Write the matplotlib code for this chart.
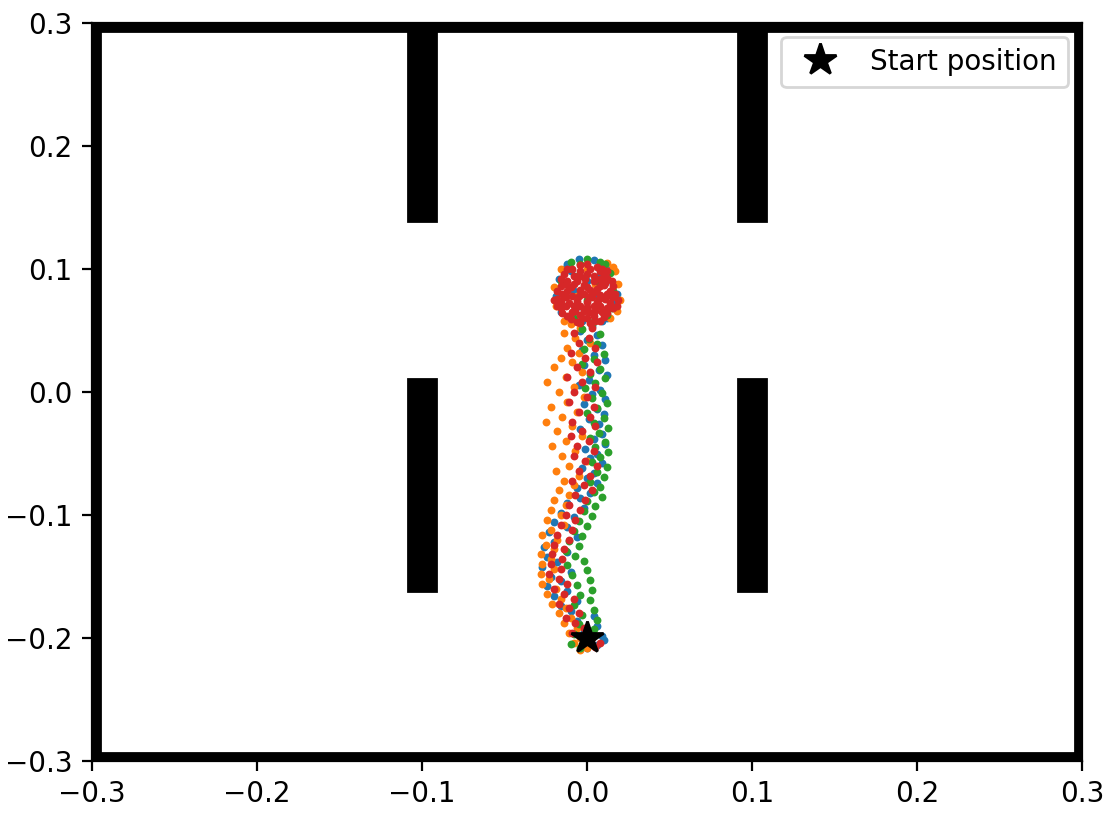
import matplotlib
matplotlib.use("Agg")
import matplotlib.pyplot as plt
from matplotlib.patches import Rectangle

# Траєкторії чотирьох запусків (x, y)
blue_x = [-0.012, -0.005, 0.004, 0.012, 0.016, 0.015, 0.012, -0.016, -0.019, -0.017, -0.01, 0.0, 0.005, -0.005,
          0.008, -0.008, 0.018, -0.014, 0.009, -0.003,
          0.003, -0.004, 0.006, 0.0, 0.009, -0.003, 0.004, 0.011, -0.002, 0.007, 0.012, 0.001, -0.005, 0.008,
          0.003, 0.011, -0.002, 0.006, 0.01, 0.001, 0.007, -0.004, 0.009, 0.004, 0.011, -0.001, 0.006, 0.002,
          0.009, -0.003, 0.004, 0.0, 0.006, -0.006, 0.002, -0.004, -0.012, -0.002, -0.016, -0.008, -0.02, -0.012,
          -0.023, -0.006, -0.02, -0.026, -0.012, -0.024, -0.018, -0.027, -0.01, -0.022, -0.016, -0.024, -0.012,
          -0.02, -0.006, -0.016, -0.01, 0.004, -0.006, 0.006, -0.002, 0.009, 0.01, 0.006, 0.0]
blue_y = [0.104, 0.108, 0.107, 0.1, 0.088, 0.072, 0.06, 0.065, 0.078, 0.092, 0.098, 0.09, 0.08, 0.07,
          0.095, 0.082, 0.08, 0.1, 0.058, 0.058,
          0.054, 0.05, 0.046, 0.042, 0.038, 0.034, 0.03, 0.026, 0.022, 0.018, 0.014, 0.01, 0.006, 0.002,
          -0.002, -0.006, -0.01, -0.014, -0.018, -0.022, -0.026, -0.03, -0.034, -0.038, -0.042, -0.046, -0.05, -0.054,
          -0.058, -0.062, -0.066, -0.07, -0.074, -0.078, -0.082, -0.086, -0.09, -0.094, -0.098, -0.102, -0.106, -0.11,
          -0.114, -0.118, -0.122, -0.126, -0.13, -0.134, -0.138, -0.142, -0.146, -0.15, -0.154, -0.158, -0.162,
          -0.166, -0.17, -0.174, -0.178, -0.182, -0.186, -0.19, -0.194, -0.198, -0.202, -0.206, -0.208]

orange_x = [-0.016, 0.012, 0.017, 0.019, 0.02, 0.018, 0.014, -0.019, -0.02, -0.014, 0.0, 0.005, -0.006, 0.008,
            0.016, -0.01,
            -0.01, -0.004, -0.014, -0.007, 0.002, -0.012, -0.005, -0.016, -0.009, -0.02, -0.003, -0.013, -0.024,
            -0.008, -0.017, -0.002, -0.012, -0.022, -0.006, -0.015, -0.025, -0.009, -0.018, -0.003, -0.013, -0.021,
            -0.007, -0.015, 0.0, -0.011, -0.019, -0.005, -0.014, -0.008, -0.017, -0.011, -0.02, -0.013, -0.022,
            -0.016, -0.024, -0.014, -0.022, -0.027, -0.018, -0.025, -0.02, -0.028, -0.022, -0.027, -0.02, -0.028,
            -0.023, -0.027, -0.019, -0.024, -0.016, -0.021, -0.013, -0.017, -0.01, -0.014, -0.006, -0.011, -0.004,
            -0.008, 0.0, -0.004]
orange_y = [0.1, 0.105, 0.098, 0.088, 0.075, 0.066, 0.06, 0.07, 0.085, 0.058, 0.1, 0.088, 0.078, 0.068,
            0.102, 0.062,
            0.055, 0.052, 0.048, 0.044, 0.04, 0.036, 0.032, 0.028, 0.024, 0.02, 0.016, 0.012, 0.008,
            0.004, 0.0, -0.004, -0.008, -0.012, -0.016, -0.02, -0.024, -0.028, -0.032, -0.036, -0.04, -0.044,
            -0.048, -0.052, -0.056, -0.06, -0.064, -0.068, -0.072, -0.076, -0.08, -0.084, -0.088, -0.092, -0.096,
            -0.1, -0.104, -0.108, -0.112, -0.116, -0.12, -0.124, -0.128, -0.132, -0.136, -0.14, -0.144, -0.148,
            -0.152, -0.156, -0.16, -0.164, -0.168, -0.172, -0.176, -0.18, -0.184, -0.188, -0.192, -0.196, -0.2,
            -0.204, -0.208, -0.21]

green_x = [-0.01, 0.0, 0.008, 0.014, 0.016, 0.012, 0.004, -0.008, -0.015, -0.016, 0.0, 0.006, -0.005, 0.011,
           -0.004, 0.015,
           0.003, -0.003, 0.008, 0.001, 0.006, -0.002, 0.01, 0.004, -0.003, 0.008, 0.002, 0.011, 0.005, -0.001,
           0.009, 0.003, 0.012, 0.006, 0.0, 0.01, 0.004, 0.013, 0.007, 0.002, 0.011, 0.005, 0.013, 0.008, 0.003,
           0.012, 0.006, 0.01, 0.002, 0.008, 0.004, 0.009, 0.0, 0.005, -0.002, 0.003, -0.005, 0.0, -0.008, -0.003,
           -0.011, -0.005, -0.013, -0.007, -0.002, -0.012, 0.0, -0.009, 0.002, -0.006, 0.003, -0.004, 0.002,
           -0.008, 0.004, -0.003, 0.006, -0.005, 0.004, -0.008, -0.002, -0.01, -0.004]
green_y = [0.106, 0.108, 0.106, 0.097, 0.082, 0.063, 0.058, 0.06, 0.07, 0.09, 0.075, 0.09, 0.095, 0.104,
           0.104, 0.068,
           0.055, 0.051, 0.047, 0.043, 0.039, 0.035, 0.031, 0.027, 0.023, 0.019, 0.015, 0.011, 0.007, 0.003,
           -0.001, -0.005, -0.009, -0.013, -0.017, -0.021, -0.025, -0.029, -0.033, -0.037, -0.041, -0.045, -0.049,
           -0.053, -0.057, -0.061, -0.065, -0.069, -0.073, -0.077, -0.081, -0.085, -0.089, -0.093, -0.097, -0.101,
           -0.105, -0.109, -0.113, -0.117, -0.121, -0.125, -0.129, -0.133, -0.137, -0.141, -0.145, -0.149, -0.153,
           -0.157, -0.161, -0.165, -0.169, -0.173, -0.177, -0.181, -0.185, -0.189, -0.193, -0.197, -0.201, -0.205,
           -0.208]

red_x = [-0.012, -0.004, 0.006, 0.012, -0.016, -0.008, 0.0, 0.008, 0.015, -0.018, -0.01, -0.002, 0.006, 0.014,
         -0.02, -0.013, -0.005, 0.003, 0.011, 0.019, -0.016, -0.008, 0.0, 0.008, 0.016, -0.012, -0.004, 0.004,
         0.012, -0.006, 0.002, 0.008, -0.002, 0.004, -0.009, 0.01,
         -0.014, 0.002, 0.01, -0.006, 0.012, -0.015, -0.006, 0.006, 0.014, -0.018, -0.002, 0.005, -0.01, 0.0,
         0.01, 0.017, -0.011, 0.002, 0.008, -0.004, 0.008, -0.013, 0.011, -0.001, 0.0,
         -0.012, -0.004, 0.004, 0.012, -0.016, -0.008, 0.0, 0.008, 0.016, -0.012, -0.004, 0.004, -0.016, -0.009,
         0.001, 0.007, 0.015, -0.013, -0.004, 0.004, 0.012, -0.015, -0.007, 0.001, 0.009, -0.003, 0.005, -0.009,
         0.0, 0.009, 0.018, -0.018,
         -0.004, 0.003, -0.008, 0.001, -0.005, 0.005, -0.01, -0.001, 0.006, -0.006, 0.002, -0.012, -0.003,
         0.005, -0.008, 0.0, -0.011, 0.004, -0.005, 0.002, -0.009, 0.005, -0.003, -0.01, 0.001, -0.006, 0.004,
         -0.008, -0.001, 0.006, -0.005, 0.002, -0.009, -0.002, 0.003, -0.007, -0.001, -0.011, -0.004, -0.013,
         -0.007, -0.016, -0.009, -0.018, -0.011, -0.02, -0.014, -0.021, -0.015, -0.022, -0.016, -0.023, -0.017,
         -0.012, -0.02, -0.014, -0.008, -0.017, -0.011, -0.005, -0.013, -0.007, -0.002, -0.009, 0.003, 0.008,
         0.005]
red_y = [0.1, 0.103, 0.102, 0.098, 0.092, 0.094, 0.096, 0.092, 0.09, 0.082, 0.085, 0.087, 0.084, 0.082,
         0.075, 0.077, 0.078, 0.077, 0.076, 0.075, 0.068, 0.07, 0.069, 0.07, 0.068, 0.062, 0.063, 0.062,
         0.064, 0.057, 0.056, 0.058, 0.08, 0.09, 0.065, 0.087,
         0.096, 0.1, 0.095, 0.09, 0.08, 0.08, 0.074, 0.073, 0.072, 0.07, 0.066, 0.066, 0.059, 0.06,
         0.061, 0.08, 0.072, 0.083, 0.079, 0.098, 0.098, 0.088, 0.089, 0.092, 0.073,
         0.09, 0.094, 0.094, 0.093, 0.086, 0.088, 0.085, 0.086, 0.086, 0.082, 0.083, 0.081, 0.074, 0.078,
         0.077, 0.076, 0.077, 0.07, 0.07, 0.07, 0.068, 0.064, 0.066, 0.065, 0.065, 0.06, 0.058, 0.1,
         0.104, 0.1, 0.07, 0.076,
         0.056, 0.052, 0.048, 0.044, 0.04, 0.036, 0.032, 0.028, 0.024, 0.02, 0.016, 0.012, 0.008,
         0.004, 0.0, -0.004, -0.008, -0.012, -0.016, -0.02, -0.024, -0.028, -0.032, -0.036, -0.04, -0.044,
         -0.048, -0.052, -0.056, -0.06, -0.064, -0.068, -0.072, -0.076, -0.08, -0.084, -0.088, -0.092, -0.096,
         -0.1, -0.104, -0.108, -0.112, -0.116, -0.12, -0.124, -0.128, -0.132, -0.136, -0.14, -0.144, -0.148,
         -0.152, -0.156, -0.16, -0.164, -0.168, -0.172, -0.176, -0.18, -0.184, -0.188, -0.192, -0.196, -0.2,
         -0.204, -0.207]

start = (0.0, -0.2)

# Стіни лабіринту: (x0, y0, ширина, висота)
walls = [
    (-0.3, -0.3, 0.005, 0.6), (0.2955, -0.3, 0.0045, 0.6),
    (-0.3, -0.3, 0.6, 0.0068), (-0.3, 0.2932, 0.6, 0.0068),
    (-0.1085, 0.139, 0.017, 0.161), (0.0915, 0.139, 0.017, 0.161),
    (-0.1085, -0.162, 0.017, 0.1726), (0.0915, -0.162, 0.017, 0.1726),
]

fig = plt.figure(figsize=(1112 / 200, 815 / 200), dpi=200)
ax = fig.add_axes([92 / 1112, 1 - 761 / 815, 990 / 1112, 738 / 815])

for x0, y0, w, h in walls:
    ax.add_patch(Rectangle((x0, y0), w, h, color='black', zorder=3))

for xs, ys, c in [(blue_x, blue_y, 'tab:blue'), (orange_x, orange_y, 'tab:orange'),
                  (green_x, green_y, 'tab:green'), (red_x, red_y, 'tab:red')]:
    ax.scatter(xs, ys, s=8, color=c, linewidths=0, zorder=2)

ax.plot(start[0], start[1], marker='*', color='black', markersize=12, linestyle='none',
        label='Start position', zorder=4)

ax.set_xlim(-0.3, 0.3)
ax.set_ylim(-0.3, 0.3)
ax.legend(loc='upper right')

fig.savefig('out.png', dpi=200)
